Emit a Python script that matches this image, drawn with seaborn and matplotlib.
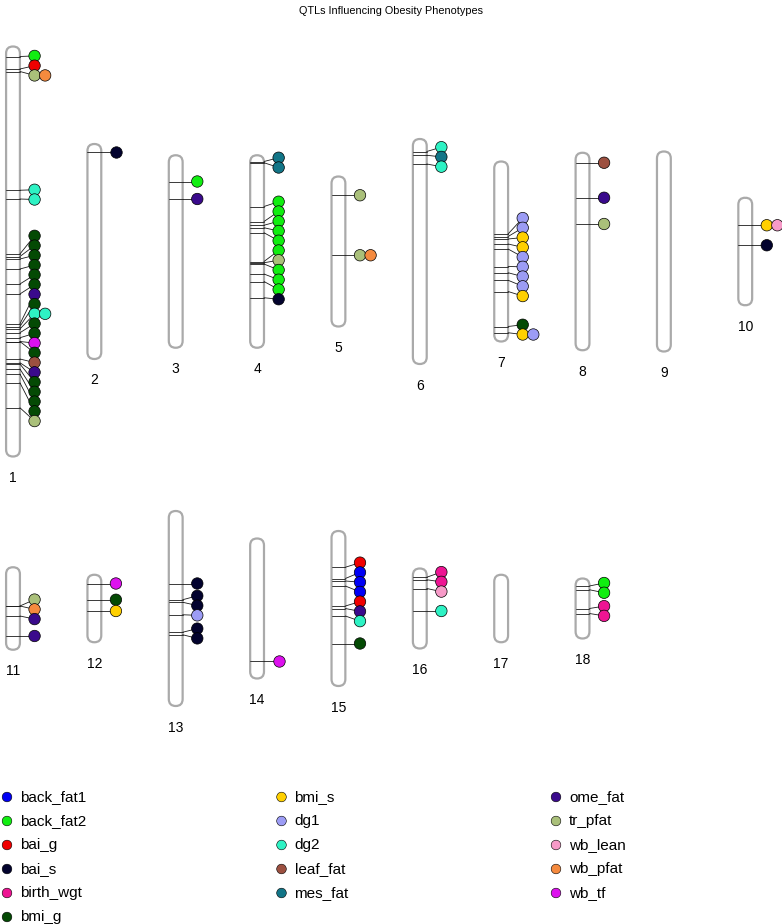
import numpy as np
import pandas as pd
import matplotlib
matplotlib.use("Agg")
import matplotlib.pyplot as plt
from matplotlib.patches import FancyBboxPatch
import seaborn as sns

sns.set_theme(style="white")
plt.rcParams['font.family'] = ['Liberation Sans', 'DejaVu Sans']
plt.rcParams['text.color'] = 'black'

# chromosome names and lengths (cM)
chrom_names = [str(i) for i in range(1, 19)]
chrom_lengths = [164, 86, 77, 77, 60, 90, 72, 79, 80, 43,
                 33, 27, 78, 56, 62, 32, 27, 24]

# QTL positions (cM from top) and traits; "a+b" = same locus, two traits
qtl_chrom = (["1"] * 25 + ["2"] + ["3"] * 2 + ["4"] * 13 + ["5"] * 2 + ["6"] * 3
             + ["7"] * 11 + ["8"] * 3 + ["10"] * 2 + ["11"] * 4 + ["12"] * 3
             + ["13"] * 6 + ["14"] + ["15"] * 8 + ["16"] * 4 + ["18"] * 4)
qtl_pos = [4, 9, 10, 57.5, 61, 83, 84, 85, 89, 95, 99, 111, 112, 113, 114.5,
           116.5, 118, 118, 125, 126.5, 127, 129, 131, 134.5, 144.5,
           3,
           10.5, 17.5,
           2.5, 3, 20.5, 26.5, 28, 29, 31, 42.5, 43, 43.5, 47.5, 50.5, 57,
           7.5, 31.5,
           5, 6.5, 10,
           29, 30, 31, 33, 35, 42, 44.5, 47.5, 52, 66, 68.5,
           4, 18, 28.5,
           11, 19,
           15.5, 15.5, 19.5, 27.5,
           3.5, 10, 14.5,
           29, 35.5, 36.5, 41.5, 48.5, 49.5,
           49,
           14.5, 19, 20, 22, 30, 31, 34, 45,
           3.5, 4.5, 8, 17,
           3, 4.5, 12, 14]
qtl_trait = ["back_fat2", "bai_g", "tr_pfat+wb_pfat", "dg2", "dg2",
             "bmi_g", "bmi_g", "bmi_g", "bmi_g", "bmi_g", "bmi_g", "ome_fat",
             "bmi_g", "dg2+dg2", "bmi_g", "bmi_g", "wb_tf", "bmi_g", "leaf_fat",
             "ome_fat", "bmi_g", "bmi_g", "bmi_g", "bmi_g", "tr_pfat",
             "bai_s",
             "back_fat2", "ome_fat",
             "mes_fat", "mes_fat", "back_fat2", "back_fat2", "back_fat2",
             "back_fat2", "back_fat2", "back_fat2", "tr_pfat", "back_fat2",
             "back_fat2", "back_fat2", "bai_s",
             "tr_pfat", "tr_pfat+wb_pfat",
             "dg2", "mes_fat", "dg2",
             "dg1", "dg1", "bmi_s", "bmi_s", "dg1", "dg1", "dg1", "dg1",
             "bmi_s", "bmi_g", "bmi_s+dg1",
             "leaf_fat", "ome_fat", "tr_pfat",
             "bmi_s+wb_lean", "bai_s",
             "tr_pfat", "wb_pfat", "ome_fat", "ome_fat",
             "wb_tf", "bmi_g", "bmi_s",
             "bai_s", "bai_s", "bai_s", "dg1", "bai_s", "bai_s",
             "wb_tf",
             "bai_g", "back_fat1", "back_fat1", "back_fat1", "bai_g",
             "ome_fat", "dg2", "bmi_g",
             "birth_wgt", "birth_wgt", "wb_lean", "dg2",
             "back_fat2", "back_fat2", "birth_wgt", "birth_wgt"]

traits = ["back_fat1", "back_fat2", "bai_g", "bai_s", "birth_wgt", "bmi_g",
          "bmi_s", "dg1", "dg2", "leaf_fat", "mes_fat",
          "ome_fat", "tr_pfat", "wb_lean", "wb_pfat", "wb_tf"]
trait_colors = ["#0000F5", "#11EE11", "#F00000", "#03032E", "#EE1493", "#044A04",
                "#FFD000", "#9C9CF5", "#2EF2C4", "#9C5040", "#127587",
                "#3A0A8C", "#AAC07A", "#F79AC8", "#F58A3E", "#DD11EE"]
palette = dict(zip(traits, trait_colors))

# layout (pixels)
W, H = 782, 924
PX_PER_CM = 2.5
COL_PX = 81.36
X0 = 13
CHR_W = 0.17
DOT_DX = 0.265
DOT_STEP = 0.13
MIN_GAP = 3.9  # cM between stacked dots


def spread(targets, mindist, lo, hi):
    t = np.asarray(targets, float)
    order = np.argsort(t, kind="stable")
    ts = t[order]
    groups = [[i] for i in range(len(ts))]

    def place(g):
        n = len(g)
        s = ts[g].mean() - mindist * (n - 1) / 2
        return min(max(s, lo), hi - mindist * (n - 1))

    starts = [place(g) for g in groups]
    merged = True
    while merged:
        merged = False
        for k in range(len(groups) - 1):
            end_k = starts[k] + mindist * (len(groups[k]) - 1)
            if starts[k + 1] - end_k < mindist - 1e-9:
                groups[k] = groups[k] + groups[k + 1]
                del groups[k + 1]
                starts = [place(g) for g in groups]
                merged = True
                break
    out = np.empty(len(ts))
    for g, s in zip(groups, starts):
        for j, idx in enumerate(g):
            out[idx] = s + j * mindist
    res = np.empty_like(out)
    res[order] = out
    return res


fig = plt.figure(figsize=(W / 100, H / 100), dpi=100)


def row_axes(top_px, bot_px, center_px):
    ax = fig.add_axes([0, 1 - bot_px / H, 1, (bot_px - top_px) / H])
    ax.set_xlim(-X0 / COL_PX, (W - X0) / COL_PX)
    ax.set_ylim((bot_px - center_px) / PX_PER_CM, -(center_px - top_px) / PX_PER_CM)
    ax.axis("off")
    return ax


ax_top = row_axes(28, 492, 251.5)
ax_bot = row_axes(492, 760, 608.5)
aspect = (1 / PX_PER_CM) / (1 / COL_PX)

qtl = pd.DataFrame({"chrom": qtl_chrom, "pos": qtl_pos, "trait": qtl_trait})

for i, (name, length) in enumerate(zip(chrom_names, chrom_lengths)):
    ax = ax_top if i < 10 else ax_bot
    cx = i % 10
    top = -length / 2
    ax.add_patch(FancyBboxPatch((cx - CHR_W / 2, top), CHR_W, length,
                                boxstyle=f"round,pad=0,rounding_size={CHR_W / 2}",
                                mutation_aspect=aspect, facecolor="white",
                                edgecolor="#AAAAAA", linewidth=1.6, zorder=1))
    ax.text(cx, length / 2 + 8.6, name, ha="center", va="center", fontsize=10)

    sub = qtl[qtl["chrom"] == name]
    if sub.empty:
        continue
    ypos = top + sub["pos"].to_numpy()
    ydot = spread(ypos, MIN_GAP, top + 1, length / 2 - 1)
    rows = []
    for yt, yd, tr in zip(ypos, ydot, sub["trait"]):
        ax.plot([cx - CHR_W / 2, cx + CHR_W / 2], [yt, yt], color="#1a1a1a",
                lw=0.6, zorder=2)
        ax.plot([cx + CHR_W / 2, cx + DOT_DX], [yt, yd], color="#1a1a1a",
                lw=0.6, zorder=2)
        for k, t in enumerate(tr.split("+")):
            rows.append({"x": cx + DOT_DX + k * DOT_STEP, "y": yd, "trait": t})
    dots = pd.DataFrame(rows)
    sns.scatterplot(data=dots, x="x", y="y", hue="trait", palette=palette,
                    s=68, edgecolor="black", linewidth=0.5, legend=False,
                    ax=ax, zorder=4)
    ax.set_xlabel("")
    ax.set_ylabel("")

fig.text(0.5, 1 - 11 / H, "QTLs Influencing Obesity Phenotypes",
         ha="center", va="center", fontsize=7.8)

# legend: 3 columns (6, 5, 5)
lax = fig.add_axes([0, 0, 1, 146 / H])
LEG_COL = 274.5
LEG_ROW = 24
lax.set_xlim(-7 / LEG_COL, (W - 7) / LEG_COL)
lax.set_ylim((924 - 797) / LEG_ROW, (778 - 797) / LEG_ROW)
lax.axis("off")
cols = np.array_split(np.arange(len(traits)), 3)
leg_rows = []
for c, idxs in enumerate(cols):
    for r, idx in enumerate(idxs):
        leg_rows.append({"x": c, "y": r, "trait": traits[idx]})
leg = pd.DataFrame(leg_rows)
sns.scatterplot(data=leg, x="x", y="y", hue="trait", palette=palette, s=48,
                edgecolor="black", linewidth=0.4, legend=False, ax=lax)
for _, rw in leg.iterrows():
    lax.text(rw["x"] + 13 / LEG_COL, rw["y"], rw["trait"], ha="left",
             va="center", fontsize=11)
lax.set_xlabel("")
lax.set_ylabel("")

fig.savefig("out.png", dpi=100)
